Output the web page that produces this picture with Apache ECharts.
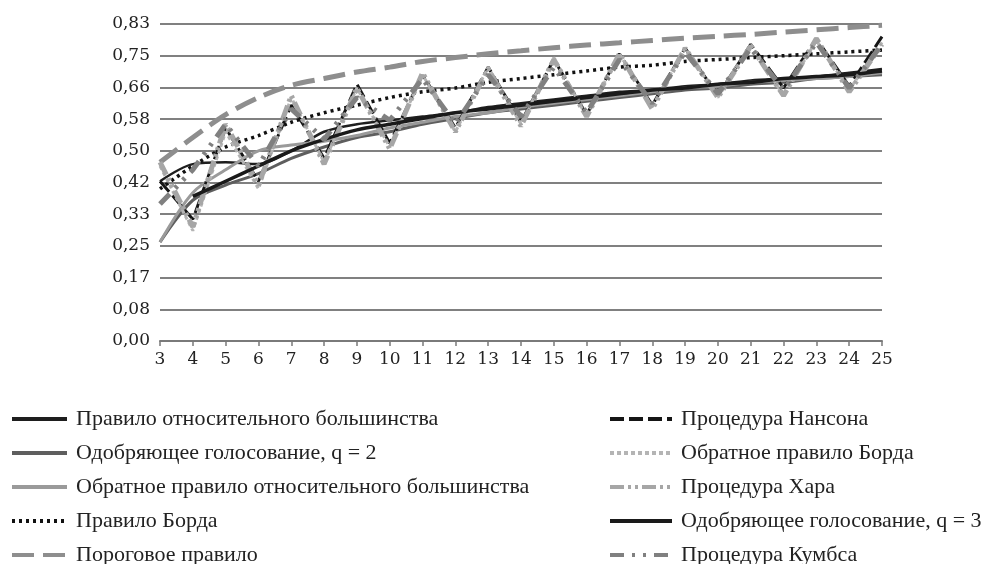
<!DOCTYPE html>
<html><head><meta charset="utf-8">
<script src="https://cdn.jsdelivr.net/npm/echarts@6/dist/echarts.min.js"></script>
<style>html,body{margin:0;padding:0;background:#fff}#c{width:1000px;height:564px}</style>
</head><body><div id="c"></div>
<script>
const categories = ['3','4','5','6','7','8','9','10','11','12','13','14','15','16','17','18','19','20','21','22','23','24','25'];
const yTickLabels = ['0,00','0,08','0,17','0,25','0,33','0,42','0,50','0,58','0,66','0,75','0,83'];
const seriesNames = ['Правило относительного большинства','Одобряющее голосование, q = 2','Обратное правило относительного большинства','Правило Борда','Пороговое правило','Процедура Нансона','Обратное правило Борда','Процедура Хара','Одобряющее голосование, q = 3','Процедура Кумбса'];
const plurality = [0.42,0.465,0.47,0.465,0.50,0.55,0.57,0.58,0.59,0.60,0.615,0.625,0.635,0.645,0.655,0.66,0.67,0.675,0.685,0.69,0.695,0.705,0.715];
const approval2 = [0.26,0.37,0.41,0.44,0.48,0.51,0.535,0.55,0.57,0.585,0.60,0.61,0.62,0.63,0.64,0.65,0.66,0.665,0.675,0.68,0.69,0.695,0.70];
const antiPlurality = [0.26,0.39,0.45,0.50,0.515,0.525,0.54,0.56,0.575,0.59,0.60,0.615,0.625,0.635,0.645,0.655,0.665,0.67,0.68,0.685,0.69,0.695,0.705];
const borda = [0.40,0.46,0.51,0.54,0.575,0.60,0.62,0.64,0.655,0.665,0.68,0.69,0.70,0.71,0.72,0.725,0.735,0.74,0.745,0.75,0.755,0.76,0.765];
const threshold = [0.47,0.535,0.595,0.64,0.672,0.69,0.707,0.72,0.735,0.745,0.755,0.763,0.771,0.778,0.784,0.79,0.796,0.801,0.806,0.812,0.818,0.824,0.83];
const nanson = [0.42,0.32,0.56,0.42,0.62,0.48,0.675,0.52,0.70,0.56,0.72,0.575,0.74,0.595,0.755,0.62,0.77,0.645,0.78,0.665,0.795,0.67,0.80];
const inverseBorda = [0.46,0.29,0.55,0.40,0.64,0.47,0.665,0.51,0.70,0.55,0.72,0.57,0.745,0.59,0.755,0.615,0.77,0.64,0.78,0.645,0.79,0.66,0.785];
const hare = [0.47,0.30,0.57,0.41,0.645,0.465,0.665,0.505,0.705,0.55,0.715,0.565,0.74,0.59,0.755,0.61,0.77,0.64,0.775,0.645,0.795,0.655,0.78];
const approval3 = [null,0.38,0.42,0.46,0.50,0.53,0.555,0.57,0.585,0.60,0.61,0.62,0.63,0.64,0.65,0.66,0.665,0.675,0.68,0.69,0.695,0.70,0.71];
const coombs = [0.36,0.45,0.57,0.46,0.61,0.53,0.64,0.58,0.69,0.57,0.70,0.59,0.72,0.60,0.74,0.625,0.76,0.65,0.77,0.66,0.785,0.665,0.78];

const dataList = [plurality,approval2,antiPlurality,borda,threshold,nanson,inverseBorda,hare,approval3,coombs];
const styles = [
  {color:'#1e1e1e',width:2.5,type:'solid',smooth:true},
  {color:'#5e5e5e',width:3,type:'solid',smooth:true},
  {color:'#9a9a9a',width:3,type:'solid',smooth:true},
  {color:'#111111',width:3.5,type:[3,4],smooth:true},
  {color:'#8e8e8e',width:5,type:[22,9],smooth:true},
  {color:'#151515',width:3,type:[14,5],smooth:false},
  {color:'#b4b4b4',width:3,type:[4,3],smooth:false},
  {color:'#a6a6a6',width:5,type:[14,4,3,4,3,4],smooth:false},
  {color:'#1a1a1a',width:3.5,type:'solid',smooth:true},
  {color:'#808080',width:5,type:[14,8,3,8,3,8],smooth:false}
];
const axisFont = 'DejaVu Serif';
const legendFont = 'Liberation Serif';
const legendCommon = {orient:'vertical',top:403,height:200,itemHeight:20,itemGap:12,
  itemStyle:{opacity:0,borderWidth:0},
  lineStyle:{width:4},
  textStyle:{fontFamily:legendFont,fontSize:22,lineHeight:22,color:'#222',padding:[0,0,0,4]}};
const chart = echarts.init(document.getElementById('c'));
chart.setOption({
  animation:false,
  backgroundColor:'#fff',
  grid:{left:160,right:118,top:24,bottom:223,containLabel:false},
  xAxis:{type:'category',data:categories,boundaryGap:false,
    axisLine:{lineStyle:{color:'#7a7a7a',width:2}},
    axisTick:{show:true,length:5,lineStyle:{color:'#7a7a7a',width:1.5}},
    axisLabel:{color:'#222',fontFamily:axisFont,fontSize:17,margin:10},
    splitLine:{show:false}},
  yAxis:{type:'value',min:0,max:10/12,interval:1/12,
    axisLine:{show:false},axisTick:{show:false},
    axisLabel:{color:'#222',fontFamily:axisFont,fontSize:17,margin:10,
      formatter:function(v){return yTickLabels[Math.round(v*12)];}},
    splitLine:{lineStyle:{color:'#808080',width:2}}},
  legend:[
    Object.assign({data:seriesNames.slice(0,5),left:5,itemWidth:55},legendCommon),
    Object.assign({data:seriesNames.slice(5),left:603,itemWidth:62},legendCommon)
  ],
  series:dataList.map(function(d,i){return {
    name:seriesNames[i],type:'line',data:d,symbol:'none',smooth:styles[i].smooth?0.3:false,
    lineStyle:{color:styles[i].color,width:styles[i].width,type:styles[i].type},
    itemStyle:{color:styles[i].color},connectNulls:false,z:2+i};})
});
</script></body></html>
